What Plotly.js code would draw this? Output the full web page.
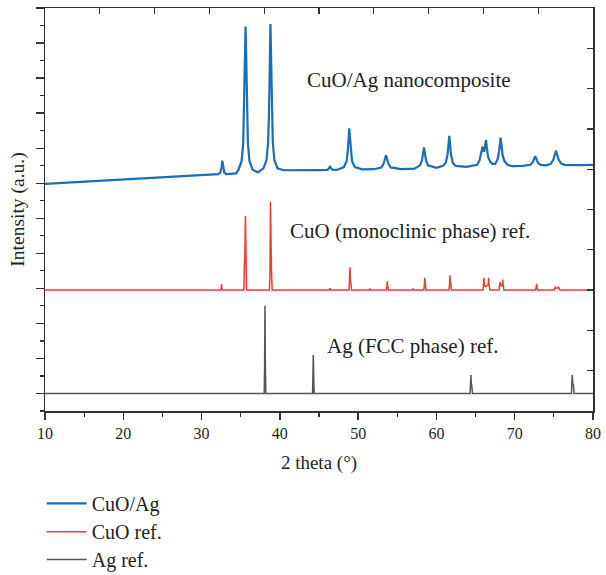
<!DOCTYPE html>
<html>
<head>
<meta charset="utf-8">
<script src="https://cdn.plot.ly/plotly-3.0.1.min.js"></script>
<style>html,body{margin:0;padding:0;background:#fff;}#chart{width:606px;height:575px;}</style>
</head>
<body>
<div id="chart"></div>
<script>
// CuO/Ag nanocomposite pattern (2θ, stacked intensity units)
const cuoAgX = [10, 12, 14, 16, 18, 20, 22, 24, 26, 28, 30, 31.8, 32.15, 32.4, 32.55, 32.65, 32.75, 32.9, 33.15, 33.8, 34.4,
  34.72, 35.12, 35.32, 35.44, 35.54, 35.62, 35.7, 35.8, 35.92, 36.12, 36.52, 37.2,
  37.9, 38.3, 38.5, 38.62, 38.72, 38.8, 38.88, 38.98, 39.1, 39.3, 39.7, 40.5, 42, 43.5, 45, 46.1, 46.4, 46.7, 47.3,
  48.17, 48.52, 48.67, 48.77, 48.87, 48.97, 49.07, 49.22, 49.57, 50.5, 52, 52.96, 53.26, 53.41, 53.56, 53.71, 53.86, 54.16, 55.5, 57.2,
  57.91, 58.16, 58.29, 58.41, 58.53, 58.66, 58.91, 60, 60.84, 61.19, 61.42, 61.54, 61.64, 61.74, 61.86, 62.09, 62.44, 63.8,
  65.2, 65.5, 65.7, 65.82, 65.9, 66.0, 66.12, 66.25, 66.33, 66.42, 66.6, 66.9, 67.2, 67.5, 67.8, 68.0, 68.1, 68.2, 68.3, 68.45, 68.7, 69.1, 69.6,
  71, 72.0, 72.3, 72.5, 72.62, 72.75, 72.95, 73.3, 74, 74.6, 74.95, 75.15, 75.27, 75.4, 75.6, 75.95, 76.4, 78, 80];
const cuoAgY = [12.96, 13.01, 13.06, 13.11, 13.15, 13.2, 13.25, 13.3, 13.35, 13.41, 13.46, 13.5, 13.52, 13.62, 13.9, 14.29, 13.9, 13.62, 13.52, 13.53, 13.56,
  13.77, 14.27, 15.27, 17.35, 20.27, 21.94, 20.27, 17.35, 15.27, 14.27, 13.77, 13.62,
  13.85, 14.32, 15.31, 17.09, 20.23, 22.09, 20.23, 17.09, 15.31, 14.32, 13.85, 13.74, 13.73, 13.74, 13.75, 13.76, 13.94, 13.77, 13.76,
  13.92, 14.25, 14.79, 15.54, 16.13, 15.54, 14.79, 14.25, 13.92, 13.79, 13.8, 13.9, 14.12, 14.36, 14.6, 14.36, 14.12, 13.9, 13.8, 13.83,
  14.02, 14.33, 14.71, 15.05, 14.71, 14.33, 14.02, 13.88, 13.99, 14.17, 14.62, 15.25, 15.7, 15.25, 14.62, 14.17, 13.99, 13.93,
  14.05, 14.3, 14.65, 14.95, 15.09, 14.85, 14.85, 15.25, 15.47, 15.1, 14.5, 14.2, 14.1, 14.1, 14.35, 14.8, 15.25, 15.6, 15.2, 14.6, 14.25, 14.05, 13.98,
  13.99, 14.05, 14.2, 14.42, 14.55, 14.4, 14.18, 14.05, 14.02, 14.1, 14.35, 14.7, 14.86, 14.65, 14.35, 14.12, 14.05, 14.03, 14.05];

// CuO (monoclinic) reference
const cuoX = [10, 32.43, 32.51, 32.55, 32.59, 32.67,
  35.4, 35.47, 35.52, 35.6, 35.66, 35.74,
  38.66, 38.74, 38.8, 38.87, 38.93, 39.02,
  46.3, 46.4, 46.5,
  48.84, 48.92, 48.96, 49.0, 49.1, 49.16,
  51.4, 51.5, 51.6,
  53.6, 53.68, 53.72, 53.78, 53.88,
  56.9, 57.0, 57.1,
  58.38, 58.46, 58.5, 58.56, 58.66,
  61.6, 61.68, 61.73, 61.8, 61.9,
  65.96, 66.03, 66.07, 66.13, 66.3, 66.6, 66.67, 66.73, 66.82,
  68.0, 68.08, 68.12, 68.18, 68.35, 68.42, 68.46, 68.52, 68.62,
  72.68, 72.76, 72.8, 72.86, 72.96,
  75.06, 75.14, 75.18, 75.26, 75.4, 75.55, 75.6, 75.66, 75.76, 80];
const cuoY = [6.9, 6.9, 7.0, 7.25, 7.0, 6.9,
  6.9, 8.4, 8.6, 11.13, 7.6, 6.9,
  6.9, 7.8, 11.93, 8.3, 8.0, 6.9,
  6.9, 7.0, 6.9,
  6.9, 7.4, 8.2, 7.6, 7.3, 6.9,
  6.9, 6.98, 6.9,
  6.9, 7.1, 7.4, 7.15, 6.9,
  6.9, 6.97, 6.9,
  6.9, 7.15, 7.6, 7.2, 6.9,
  6.9, 7.2, 7.75, 7.25, 6.9,
  6.9, 7.2, 7.6, 7.15, 7.1, 7.2, 7.6, 7.2, 6.9,
  6.9, 7.1, 7.35, 7.15, 7.15, 7.25, 7.5, 7.2, 6.9,
  6.9, 7.05, 7.25, 7.05, 6.9,
  6.9, 7.0, 7.1, 7.0, 7.0, 7.05, 7.1, 7.0, 6.9, 6.9];

// Ag (FCC) reference
const agX = [10, 38.0, 38.05, 38.1, 38.15, 38.22,
  44.18, 44.22, 44.27, 44.32, 44.38,
  64.3, 64.35, 64.4, 64.46, 64.52, 64.6,
  77.25, 77.3, 77.35, 77.42, 77.5, 77.58, 80];
const agY = [1.0, 1.0, 2.5, 6.0, 2.5, 1.0,
  1.0, 2.0, 3.2, 2.0, 1.0,
  1.0, 1.6, 2.05, 1.55, 1.45, 1.0,
  1.0, 1.6, 2.05, 1.55, 1.5, 1.0, 1.0];

const seriesNames = ['CuO/Ag', 'CuO ref.', 'Ag ref.'];
const labels = ['CuO/Ag nanocomposite', 'CuO (monoclinic phase) ref.', 'Ag (FCC phase) ref.'];
const labelX = [43.2, 41.1, 45.8];
const labelY = [18.9, 10.3, 3.7];

const serif = 'Liberation Serif, Times New Roman, serif';
const ink = '#231f20';

const traces = [
  {x: cuoAgX, y: cuoAgY, name: seriesNames[0], legend: 'legend', type: 'scatter', mode: 'lines', line: {color: '#1c6cb9', width: 2.2}},
  {x: cuoX, y: cuoY, name: seriesNames[1], legend: 'legend2', type: 'scatter', mode: 'lines', line: {color: '#ee3b33', width: 1.5}},
  {x: agX, y: agY, name: seriesNames[2], legend: 'legend3', type: 'scatter', mode: 'lines', line: {color: '#555555', width: 1.5}},
  {x: [5], y: [5], xaxis: 'x2', yaxis: 'y2', type: 'scatter', mode: 'markers', marker: {opacity: 0}, showlegend: false, hoverinfo: 'skip'}
];

function leg(y) {
  return {x: -0.006, y: y, xanchor: 'left', yanchor: 'top', orientation: 'v', itemwidth: 40,
    font: {family: serif, size: 20, color: ink}, bgcolor: 'rgba(0,0,0,0)'};
}

const layout = {
  width: 606, height: 575,
  margin: {l: 45, r: 13, t: 8, b: 164, autoexpand: false},
  paper_bgcolor: '#fff', plot_bgcolor: '#fff',
  font: {family: serif, color: ink},
  showlegend: true,
  xaxis: {
    range: [10, 80], dtick: 10, tick0: 10, ticks: 'outside', ticklen: 7, tickwidth: 1.3, tickcolor: '#333',
    showline: true, linecolor: '#333', linewidth: 1.5, showgrid: false, zeroline: false,
    tickfont: {family: serif, size: 16, color: ink},
    minor: {dtick: 5, tick0: 10, ticks: 'outside', ticklen: 4, tickwidth: 1.2, tickcolor: '#333', showgrid: false},
    title: {text: '2 theta (°)', font: {family: serif, size: 19, color: ink}, standoff: 15}
  },
  yaxis: {
    range: [0, 23], tick0: 1, dtick: 2, ticks: 'outside', ticklen: 8, tickwidth: 1.3, tickcolor: '#333',
    showticklabels: false, showline: true, linecolor: '#333', linewidth: 1.5, showgrid: false, zeroline: false,
    minor: {dtick: 1, tick0: 0, ticks: 'outside', ticklen: 4, tickwidth: 1.2, tickcolor: '#333', showgrid: false},
    title: {text: 'Intensity (a.u.)', font: {family: serif, size: 19.5, color: ink}, standoff: 5}
  },
  xaxis2: {
    overlaying: 'x', side: 'top', anchor: 'y', range: [0, 10], dtick: 1, ticks: 'inside', ticklen: 6, tickwidth: 1.3,
    tickcolor: '#333', showticklabels: false, showline: true, linecolor: '#333', linewidth: 1.5, showgrid: false, zeroline: false
  },
  yaxis2: {
    overlaying: 'y', side: 'right', anchor: 'x', range: [0, 10], dtick: 1, ticks: 'inside', ticklen: 6, tickwidth: 1.3,
    tickcolor: '#333', showticklabels: false, showline: true, linecolor: '#333', linewidth: 1.5, showgrid: false, zeroline: false
  },
  legend: leg(-0.181),
  legend2: leg(-0.251),
  legend3: leg(-0.320),
  annotations: labels.map((t, i) => ({
    x: labelX[i], y: labelY[i], xref: 'x', yref: 'y', text: t, showarrow: false,
    xanchor: 'left', yanchor: 'middle', font: {family: serif, size: 21, color: ink}
  }))
};

Plotly.newPlot('chart', traces, layout, {displayModeBar: false, staticPlot: true});
</script>
</body>
</html>
